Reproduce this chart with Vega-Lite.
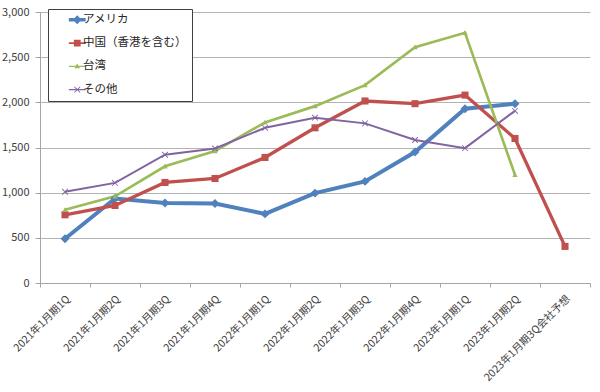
{
  "$schema": "https://vega.github.io/schema/vega-lite/v6.json",
  "width": 550,
  "height": 271,
  "autosize": {"type": "none"},
  "padding": {"left": 40, "top": 12, "right": 10, "bottom": 109},
  "background": "white",
  "config": {
    "view": {"stroke": null},
    "font": "Noto Sans CJK JP"
  },
  "data": {
    "values": [
      {"q": "2021年1月期1Q", "series": "アメリカ", "v": 490},
      {"q": "2021年1月期2Q", "series": "アメリカ", "v": 935},
      {"q": "2021年1月期3Q", "series": "アメリカ", "v": 885},
      {"q": "2021年1月期4Q", "series": "アメリカ", "v": 880},
      {"q": "2022年1月期1Q", "series": "アメリカ", "v": 765},
      {"q": "2022年1月期2Q", "series": "アメリカ", "v": 995},
      {"q": "2022年1月期3Q", "series": "アメリカ", "v": 1125},
      {"q": "2022年1月期4Q", "series": "アメリカ", "v": 1450},
      {"q": "2023年1月期1Q", "series": "アメリカ", "v": 1930},
      {"q": "2023年1月期2Q", "series": "アメリカ", "v": 1985},
      {"q": "2021年1月期1Q", "series": "中国（香港を含む）", "v": 755},
      {"q": "2021年1月期2Q", "series": "中国（香港を含む）", "v": 858},
      {"q": "2021年1月期3Q", "series": "中国（香港を含む）", "v": 1113},
      {"q": "2021年1月期4Q", "series": "中国（香港を含む）", "v": 1157},
      {"q": "2022年1月期1Q", "series": "中国（香港を含む）", "v": 1390},
      {"q": "2022年1月期2Q", "series": "中国（香港を含む）", "v": 1718},
      {"q": "2022年1月期3Q", "series": "中国（香港を含む）", "v": 2015},
      {"q": "2022年1月期4Q", "series": "中国（香港を含む）", "v": 1985},
      {"q": "2023年1月期1Q", "series": "中国（香港を含む）", "v": 2080},
      {"q": "2023年1月期2Q", "series": "中国（香港を含む）", "v": 1600},
      {"q": "2023年1月期3Q会社予想", "series": "中国（香港を含む）", "v": 405},
      {"q": "2021年1月期1Q", "series": "台湾", "v": 810},
      {"q": "2021年1月期2Q", "series": "台湾", "v": 960},
      {"q": "2021年1月期3Q", "series": "台湾", "v": 1292},
      {"q": "2021年1月期4Q", "series": "台湾", "v": 1460},
      {"q": "2022年1月期1Q", "series": "台湾", "v": 1778},
      {"q": "2022年1月期2Q", "series": "台湾", "v": 1958},
      {"q": "2022年1月期3Q", "series": "台湾", "v": 2190},
      {"q": "2022年1月期4Q", "series": "台湾", "v": 2610},
      {"q": "2023年1月期1Q", "series": "台湾", "v": 2770},
      {"q": "2023年1月期2Q", "series": "台湾", "v": 1197},
      {"q": "2021年1月期1Q", "series": "その他", "v": 1010},
      {"q": "2021年1月期2Q", "series": "その他", "v": 1108},
      {"q": "2021年1月期3Q", "series": "その他", "v": 1420},
      {"q": "2021年1月期4Q", "series": "その他", "v": 1489},
      {"q": "2022年1月期1Q", "series": "その他", "v": 1718},
      {"q": "2022年1月期2Q", "series": "その他", "v": 1830},
      {"q": "2022年1月期3Q", "series": "その他", "v": 1767},
      {"q": "2022年1月期4Q", "series": "その他", "v": 1583},
      {"q": "2023年1月期1Q", "series": "その他", "v": 1493},
      {"q": "2023年1月期2Q", "series": "その他", "v": 1906}
    ]
  },
  "encoding": {
    "x": {
      "field": "q",
      "type": "nominal",
      "scale": {
        "type": "band",
        "paddingInner": 0,
        "paddingOuter": 0,
        "domain": ["2021年1月期1Q", "2021年1月期2Q", "2021年1月期3Q", "2021年1月期4Q", "2022年1月期1Q", "2022年1月期2Q", "2022年1月期3Q", "2022年1月期4Q", "2023年1月期1Q", "2023年1月期2Q", "2023年1月期3Q会社予想"]
      },
      "axis": {
        "title": null,
        "tickBand": "extent",
        "labelOffset": 3,
        "labelAngle": -45,
        "labelAlign": "right",
        "labelBaseline": "middle",
        "labelPadding": 10,
        "labelFontSize": 10.5,
        "labelColor": "#404040",
        "labelFont": "Noto Sans CJK JP",
        "tickColor": "#A6A6A6",
        "tickSize": 4,
        "domainColor": "#A6A6A6",
        "grid": false
      }
    },
    "y": {
      "field": "v",
      "type": "quantitative",
      "scale": {"domain": [0, 3000], "nice": false},
      "axis": {
        "title": null,
        "values": [0, 500, 1000, 1500, 2000, 2500, 3000],
        "format": ",d",
        "labelFontSize": 11,
        "labelColor": "#404040",
        "labelFont": "Noto Sans CJK JP",
        "labelPadding": 6,
        "tickSize": 5,
        "tickColor": "#A6A6A6",
        "domainColor": "#A6A6A6",
        "gridColor": "#B3B3B3",
        "gridWidth": 1
      }
    }
  },
  "layer": [
    {
      "mark": {"type": "line"},
      "encoding": {
        "color": {
          "field": "series",
          "type": "nominal",
          "scale": {
            "domain": ["アメリカ", "中国（香港を含む）", "台湾", "その他"],
            "range": ["#4F81BD", "#C0504D", "#9BBB59", "#8064A2"]
          },
          "legend": null
        },
        "strokeWidth": {
          "field": "series",
          "type": "nominal",
          "scale": {
            "domain": ["アメリカ", "中国（香港を含む）", "台湾", "その他"],
            "range": [4, 2, 1.5, 1.5]
          },
          "legend": null
        }
      }
    },
    {
      "transform": [{"filter": "datum.series === 'アメリカ'"}],
      "mark": {"type": "point", "filled": true, "opacity": 1, "shape": "diamond", "size": 80, "color": "#4F81BD"}
    },
    {
      "transform": [{"filter": "datum.series === '中国（香港を含む）'"}],
      "mark": {"type": "point", "filled": true, "opacity": 1, "shape": "square", "size": 50, "color": "#C0504D"}
    },
    {
      "transform": [{"filter": "datum.series === '台湾'"}],
      "mark": {"type": "point", "filled": true, "opacity": 1, "shape": "M0,-0.9L0.9,0.7H-0.9Z", "size": 36, "color": "#9BBB59"}
    },
    {
      "transform": [{"filter": "datum.series === 'その他'"}],
      "mark": {"type": "point", "filled": true, "opacity": 1, "shape": "M-0.8,-1L0,-0.2L0.8,-1L1,-0.8L0.2,0L1,0.8L0.8,1L0,0.2L-0.8,1L-1,0.8L-0.2,0L-1,-0.8Z", "size": 40, "color": "#8064A2"}
    },
    {
      "mark": {"type": "point", "filled": true, "opacity": 0},
      "encoding": {
        "color": {
          "field": "series",
          "type": "nominal",
          "scale": {
            "domain": ["アメリカ", "中国（香港を含む）", "台湾", "その他"],
            "range": ["#4F81BD", "#C0504D", "#9BBB59", "#8064A2"]
          },
          "legend": {
            "title": null,
            "orient": "none",
            "legendX": 8,
            "legendY": -3,
            "fillColor": "white",
            "strokeColor": "#404040",
            "padding": 5,
            "rowPadding": 10.3,
            "symbolSize": 64,
            "symbolOffset": 18.5,
            "symbolOpacity": 1,
            "symbolStrokeWidth": 0,
            "labelFontSize": 11.5,
            "labelFont": "Noto Sans CJK JP",
            "labelColor": "#262626",
            "labelOffset": 0,
            "labelLimit": 200
          }
        },
        "shape": {
          "field": "series",
          "type": "nominal",
          "scale": {
            "domain": ["アメリカ", "中国（香港を含む）", "台湾", "その他"],
            "range": [
              "M-2.1,-0.45H2.1V0.45H-2.1Z M0,-1.1L1.1,0L0,1.1L-1.1,0Z",
              "M-2.1,-0.22H2.1V0.22H-2.1Z M-0.85,-0.85H0.85V0.85H-0.85Z",
              "M-2.1,-0.18H2.1V0.18H-2.1Z M0,-0.7L0.7,0.5H-0.7Z",
              "M-2.1,-0.18H2.1V0.18H-2.1Z M-0.64,-0.8L0,-0.16L0.64,-0.8L0.8,-0.64L0.16,0L0.8,0.64L0.64,0.8L0,0.16L-0.64,0.8L-0.8,0.64L-0.16,0L-0.8,-0.64Z"
            ]
          },
          "legend": {
            "title": null,
            "orient": "none",
            "legendX": 8,
            "legendY": -3,
            "fillColor": "white",
            "strokeColor": "#404040",
            "padding": 5,
            "rowPadding": 10.3,
            "symbolSize": 64,
            "symbolOffset": 18.5,
            "symbolOpacity": 1,
            "symbolStrokeWidth": 0,
            "labelFontSize": 11.5,
            "labelFont": "Noto Sans CJK JP",
            "labelColor": "#262626",
            "labelOffset": 0,
            "labelLimit": 200
          }
        }
      }
    }
  ],
  "resolve": {"scale": {"color": "independent", "shape": "independent"}, "legend": {"color": "independent", "shape": "independent"}}
}
